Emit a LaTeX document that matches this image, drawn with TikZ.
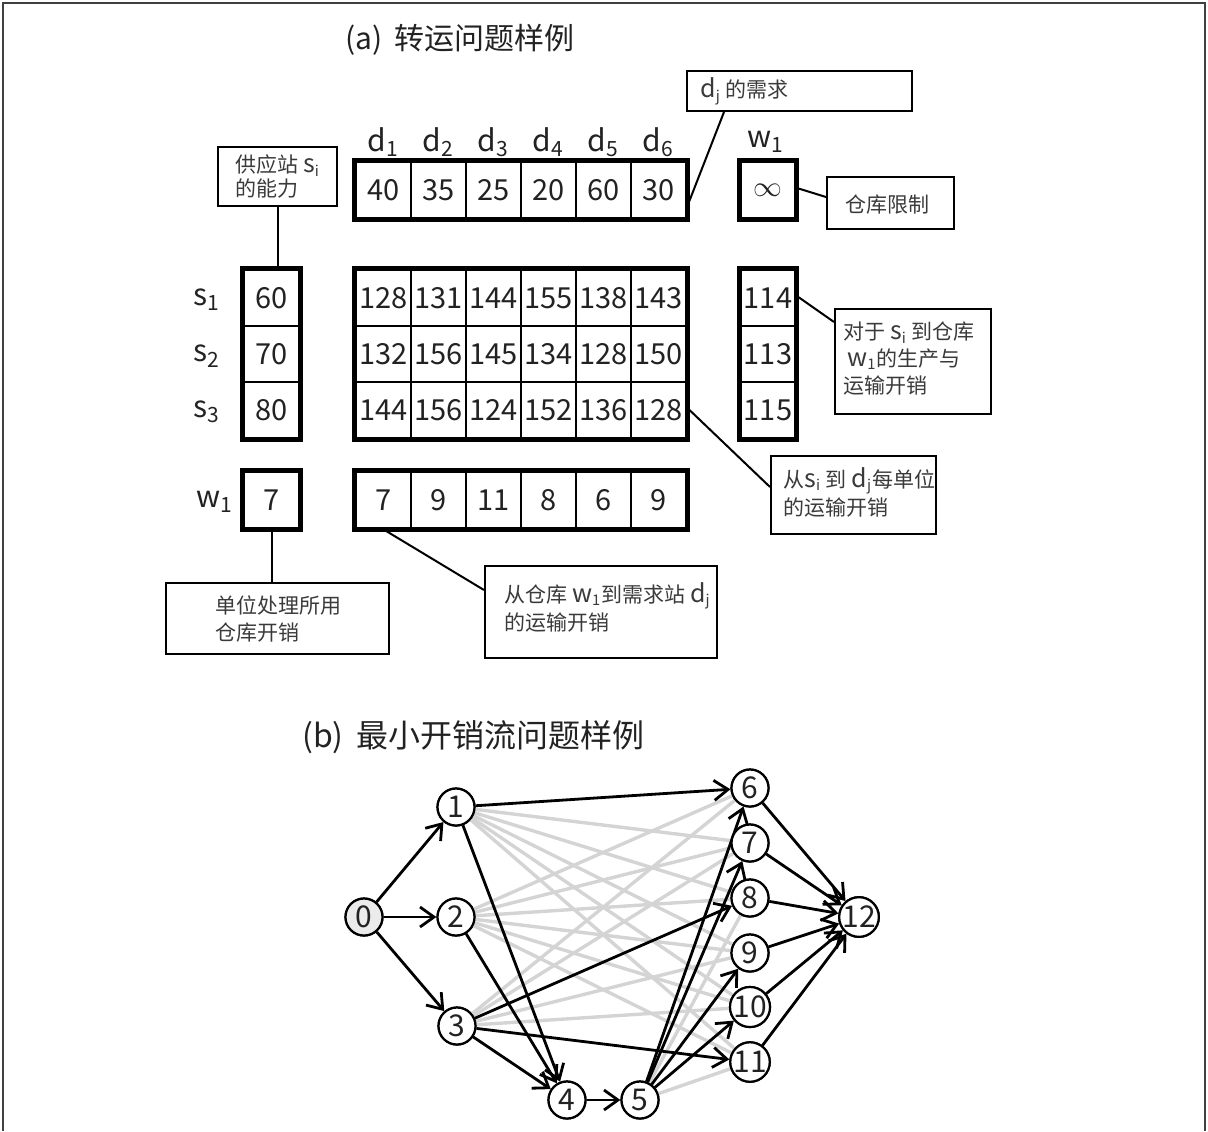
\documentclass[tikz,border=0pt]{standalone}
\usepackage{fontspec}
\setmainfont{Noto Sans CJK SC}
\usetikzlibrary{arrows.meta,calc}
\definecolor{txt}{HTML}{222222}
\definecolor{notetxt}{HTML}{3A3A3A}
\definecolor{lightedge}{HTML}{D4D4D4}
\newcommand{\biglat}[1]{{\fontsize{12.5}{12.5}\selectfont #1}}
\begin{document}
\begin{tikzpicture}[x=0.5pt,y=-0.5pt,
  cell/.style={draw, line width=1.4pt, minimum width=27.5pt, minimum height=28pt, inner sep=0pt,
    font=\fontsize{14.5}{14.5}\selectfont, text=txt},
  outer/.style={line width=2.4pt},
  lbl/.style={inner sep=0pt, font=\fontsize{15}{15}\selectfont, text=txt},
  notebox/.style={draw, line width=1pt, anchor=north west, inner sep=0pt},
  notetext/.style={anchor=west, align=left, inner sep=0pt,
    font=\fontsize{10.5}{13.5}\selectfont, text=notetxt},
  conn/.style={line width=1pt},
  title/.style={anchor=west, inner sep=0pt, text=txt},
  gnode/.style={circle, draw, line width=1.1pt, minimum size=18.5pt, inner sep=0pt,
    font=\fontsize{15}{15}\selectfont, text=txt, fill=white},
  faint/.style={draw=lightedge, line width=1.7pt},
  arr/.style={line width=1.4pt, -{Straight Barb[length=7pt,width=10pt]}}
]
\useasboundingbox (0,0) rectangle (1208,1131);
\draw[line width=1pt, black!75] (3,1131) -- (3,3) -- (1205,3) -- (1205,1131);

% titles
\node[title, font=\fontsize{15}{15}\selectfont] (ta) at (345,40) {(a)\, 转运问题样例};
\node[title, font=\fontsize{16}{16}\selectfont] (tb) at (302,737) {(b)\, 最小开销流问题样例};

% demand row
\foreach \v [count=\k] in {40,35,25,20,60,30} {
  \node[cell] (d\k) at (328.5+55*\k,190) {\v};
  \node[lbl] (dl\k) at (328.5+55*\k,142) {d\textsubscript{\k}};
}
\draw[outer] (d1.north west) rectangle (d6.south east);

% warehouse limit
\node[cell] (winf) at (768,190) {$\infty$};
\draw[outer] (winf.north west) rectangle (winf.south east);
\node[lbl] (wl) at (766,142) {w\textsubscript{1}};

% supply column
\foreach \v [count=\i] in {60,70,80} {
  \node[cell] (sv\i) at (271.5,242+56*\i) {\v};
  \node[lbl] (sl\i) at (207,244+56*\i) {s\textsubscript{\i}};
}
\draw[outer] (sv1.north west) rectangle (sv3.south east);

% cost matrix
\foreach \row [count=\i] in {{128,131,144,155,138,143},{132,156,145,134,128,150},{144,156,124,152,136,128}} {
  \foreach \v [count=\k] in \row {
    \node[cell] (c\i\k) at (328.5+55*\k,242+56*\i) {\v};
  }
}
\draw[outer] (c11.north west) rectangle (c36.south east);

% warehouse column
\foreach \v [count=\i] in {114,113,115} {
  \node[cell] (wc\i) at (768,242+56*\i) {\v};
}
\draw[outer] (wc1.north west) rectangle (wc3.south east);

% warehouse handling
\node[cell] (wb) at (271.5,500) {7};
\draw[outer] (wb.north west) rectangle (wb.south east);
\node[lbl] (wbl) at (215,502) {w\textsubscript{1}};

% warehouse to demand
\foreach \v [count=\k] in {7,9,11,8,6,9} {
  \node[cell] (wd\k) at (328.5+55*\k,500) {\v};
}
\draw[outer] (wd1.north west) rectangle (wd6.south east);

% notes: boxes
\node[notebox, minimum width=112.5pt, minimum height=20pt] (djbox) at (686,70) {};
\node[notebox, minimum width=63.5pt, minimum height=26pt] (ckbox) at (826,176) {};
\node[notebox, minimum width=59.5pt, minimum height=29.5pt] (gybox) at (217,146) {};
\node[notebox, minimum width=78pt, minimum height=52.5pt] (dsbox) at (834,308) {};
\node[notebox, minimum width=82.5pt, minimum height=39pt] (csbox) at (770,455) {};
\node[notebox, minimum width=111.5pt, minimum height=35.5pt] (dwbox) at (165,582) {};
\node[notebox, minimum width=116pt, minimum height=46pt] (cwbox) at (484,565) {};
% notes: texts
\node[notetext] (djtext) at ($(djbox.west)+(14,0)$) {\biglat{d}\textsubscript{j} 的需求};
\node[notetext, anchor=center] (cktext) at ($(ckbox.center)+(-3,2)$) {仓库限制};
\node[notetext, font=\fontsize{10.5}{12}\selectfont] (gytext) at ($(gybox.west)+(18,0)$) {供应站 \biglat{s}\textsubscript{i}\\的能力};
\node[notetext] (dstext) at ($(dsbox.west)+(9,-3)$) {对于 \biglat{s}\textsubscript{i} 到仓库\\\hspace*{2pt}\biglat{w}\textsubscript{1}的生产与\\运输开销};
\node[notetext, font=\fontsize{10.5}{14}\selectfont] (cstext) at ($(csbox.west)+(13,-3)$) {从\biglat{s}\textsubscript{i} 到 \biglat{d}\textsubscript{j}每单位\\的运输开销};
\node[notetext] (dwtext) at ($(dwbox.west)+(50,0)$) {单位处理所用\\仓库开销};
\node[notetext, font=\fontsize{10.5}{14}\selectfont] (cwtext) at ($(cwbox.west)+(20,-5)$) {从仓库 \biglat{w}\textsubscript{1}到需求站 \biglat{d}\textsubscript{j}\\的运输开销};

% note connectors
\draw[conn] ($(d6.east)+(0,16)$) -- ($(djbox.south west)+(38,0)$);
\draw[conn] ($(winf.east)+(0,-2)$) -- ($(ckbox.north west)+(0,21)$);
\draw[conn] (gybox.south) -- (gybox.south |- sv1.north);
\draw[conn] ($(wc1.east)+(0,-2)$) -- ($(dsbox.north west)+(0,14)$);
\draw[conn] ($(c36.east)+(0,-2)$) -- ($(csbox.north west)+(0,32)$);
\draw[conn] (wb.south) -- (wb.south |- dwbox.north);
\draw[conn] (wd1.south) -- ($(cwbox.north west)+(0,25)$);

% graph nodes
\node[gnode, fill=black!8] (n0) at (364,917) {0};
\node[gnode] (n1) at (456,807) {1};
\node[gnode] (n2) at (456,917) {2};
\node[gnode] (n3) at (457,1026) {3};
\node[gnode] (n4) at (567,1100) {4};
\node[gnode] (n5) at (640,1100) {5};
\node[gnode] (n6) at (750,788) {6};
\node[gnode] (n7) at (750,843) {7};
\node[gnode] (n8) at (750,898) {8};
\node[gnode] (n9) at (750,953) {9};
\node[gnode] (n10) at (750,1007) {10};
\node[gnode] (n11) at (750,1062) {11};
\node[gnode] (n12) at (859,917) {12};

% faint edges
\foreach \t in {7,8,9,10,11} \draw[faint] (n1) -- (n\t);
\foreach \t in {6,7,8,9,10,11} \draw[faint] (n2) -- (n\t);
\foreach \t in {6,7,9,10} \draw[faint] (n3) -- (n\t);
\draw[faint] (n5) -- (n8);
\draw[faint] (n5) -- (n11);

% black edges
\draw[arr] (n0) -- (n1);
\draw[arr] (n0) -- (n2);
\draw[arr] (n0) -- (n3);
\draw[arr] (n1) -- (n6);
\draw[arr] (n1) -- (n4);
\draw[arr] (n2) -- (n4);
\draw[arr] (n3) -- (n4);
\draw[arr] (n3) -- (n8);
\draw[arr] (n3) -- (n11);
\draw[arr] (n4) -- (n5);
\foreach \t in {6,7,9,10} \draw[arr] (n5) -- (n\t);
\foreach \s in {6,7,8,9,10,11} \draw[arr] (n\s) -- (n12);

% redraw node circles on top
\foreach \n in {1,...,12} \node[gnode] at (n\n) {\n};
\node[gnode, fill=black!8] at (n0) {0};
\end{tikzpicture}
\end{document}
